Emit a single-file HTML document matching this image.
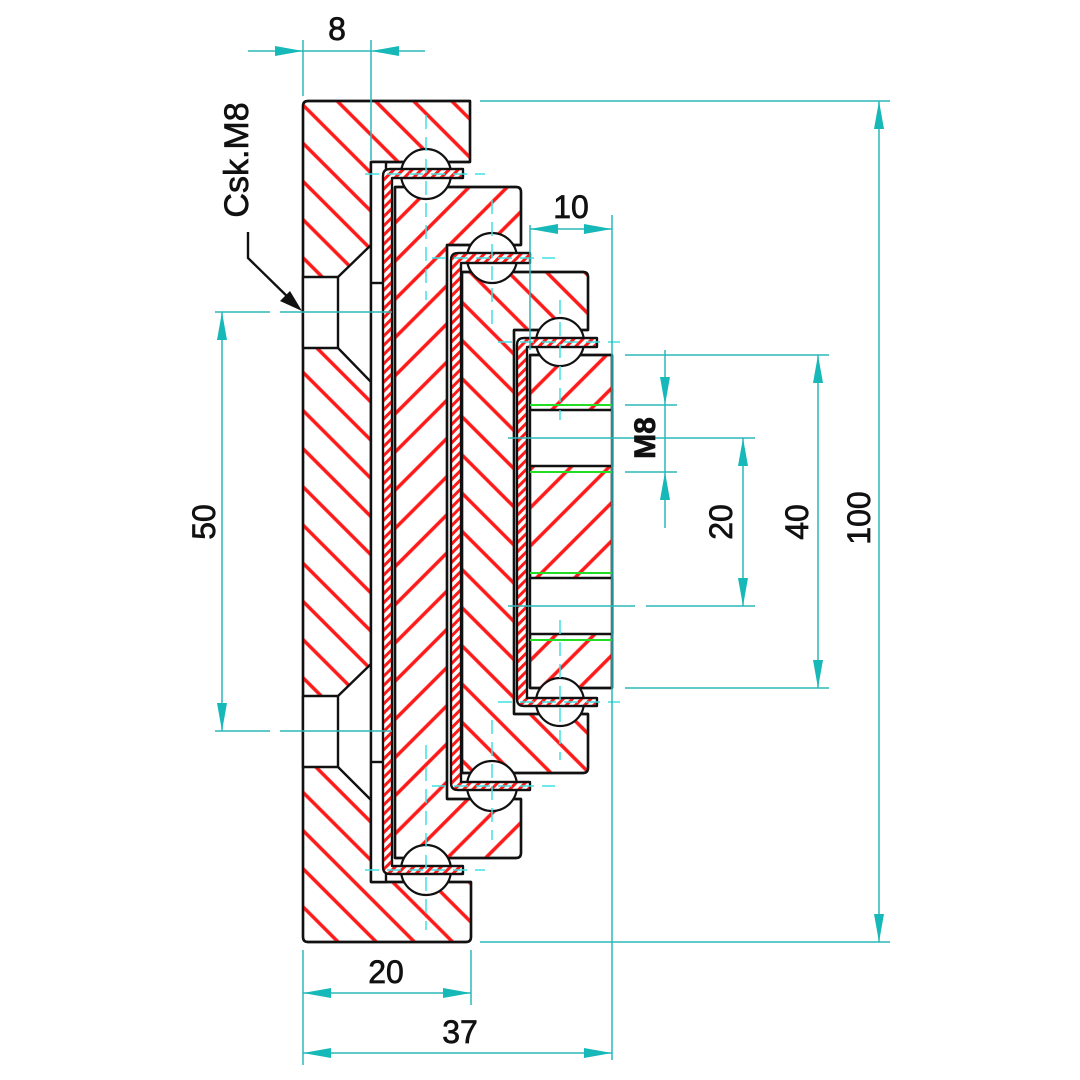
<!DOCTYPE html>
<html><head><meta charset="utf-8"><style>html,body{margin:0;padding:0;background:#fff}svg{display:block}</style></head>
<body>
<svg width="1080" height="1080" viewBox="0 0 1080 1080" xmlns="http://www.w3.org/2000/svg">
<defs>
<pattern id="hb" width="27" height="27" patternUnits="userSpaceOnUse" patternTransform="rotate(-45)">
<line x1="5" y1="0" x2="5" y2="27" stroke="#ff1a1a" stroke-width="3.5"/></pattern>
<pattern id="hf" width="27" height="27" patternUnits="userSpaceOnUse" patternTransform="rotate(45)">
<line x1="5" y1="0" x2="5" y2="27" stroke="#ff1a1a" stroke-width="3.5"/></pattern>
<pattern id="hs" width="6.5" height="6.5" patternUnits="userSpaceOnUse" patternTransform="rotate(45)">
<line x1="2" y1="0" x2="2" y2="6.5" stroke="#ff1a1a" stroke-width="3"/></pattern>
</defs>

<g stroke="#111" stroke-width="2.4" stroke-linejoin="round">
<path d="M303,106 Q303,101 308,101 L470,101 L470,162 L371,162 L371,882 L471,882 L471,937 Q471,942 466,942 L308,942 Q303,942 303,937 Z" fill="#fff"/>
<path d="M303,106 Q303,101 308,101 L470,101 L470,162 L371,162 L371,882 L471,882 L471,937 Q471,942 466,942 L308,942 Q303,942 303,937 Z" fill="url(#hb)"/>
<path d="M303,277 L338,277 L371,245 L371,382 L338,348 L303,348 Z" fill="#fff"/>
<line x1="338" y1="277" x2="338" y2="348"/>
<path d="M303,696 L338,696 L371,664 L371,800 L338,767 L303,767 Z" fill="#fff"/>
<line x1="338" y1="696" x2="338" y2="767"/>
<rect x="371" y="162" width="15" height="720" fill="#fff"/>
<line x1="371" y1="283" x2="386" y2="283"/>
<line x1="371" y1="762" x2="386" y2="762"/>

<path d="M395,187 L516,187 Q521,187 521,192 L521,245 L447,245 L447,799 L521,799 L521,853 Q521,858 516,858 L395,858 Z" fill="#fff"/>
<path d="M395,187 L516,187 Q521,187 521,192 L521,245 L447,245 L447,799 L521,799 L521,853 Q521,858 516,858 L395,858 Z" fill="url(#hf)"/>
<path d="M462,272 L583,272 Q588,272 588,277 L588,330 L514,330 L514,714 L588,714 L588,768 Q588,773 583,773 L462,773 Z" fill="#fff"/>
<path d="M462,272 L583,272 Q588,272 588,277 L588,330 L514,330 L514,714 L588,714 L588,768 Q588,773 583,773 L462,773 Z" fill="url(#hb)"/>
<rect x="530" y="355" width="82" height="333" fill="#fff"/>
<rect x="530" y="355" width="82" height="333" fill="url(#hf)"/>
<rect x="530" y="410" width="82" height="56" fill="#fff"/>
<rect x="530" y="578" width="82" height="56" fill="#fff"/>
</g>
<g stroke="#22dd22" stroke-width="2">
<line x1="530" y1="405" x2="612" y2="405"/><line x1="530" y1="472" x2="612" y2="472"/>
<line x1="530" y1="573" x2="612" y2="573"/><line x1="530" y1="640" x2="612" y2="640"/>
</g>

<g fill="#fff" stroke="#111" stroke-width="2.2">
<circle cx="426" cy="174" r="25"/><circle cx="426" cy="870" r="25"/>
<circle cx="492" cy="258" r="25"/><circle cx="492" cy="786" r="25"/>
<circle cx="560" cy="342" r="24"/><circle cx="560" cy="702" r="24"/>
</g>

<g stroke="#111" stroke-width="2.2" stroke-linejoin="round">
<path d="M390,169 L463,169 L463,178 L392,178 L392,866 L463,866 L463,874 L390,874 Q383,874 383,867 L383,176 Q383,169 390,169 Z" fill="#fff"/>
<path d="M390,169 L463,169 L463,178 L392,178 L392,866 L463,866 L463,874 L390,874 Q383,874 383,867 L383,176 Q383,169 390,169 Z" fill="url(#hs)"/>
<path d="M458,253 L530,253 L530,263 L461,263 L461,782 L530,782 L530,790 L458,790 Q451,790 451,783 L451,260 Q451,253 458,253 Z" fill="#fff"/>
<path d="M458,253 L530,253 L530,263 L461,263 L461,782 L530,782 L530,790 L458,790 Q451,790 451,783 L451,260 Q451,253 458,253 Z" fill="url(#hs)"/>
<path d="M524,338 L597,338 L597,347 L527,347 L527,698 L597,698 L597,706 L524,706 Q517,706 517,699 L517,345 Q517,338 524,338 Z" fill="#fff"/>
<path d="M524,338 L597,338 L597,347 L527,347 L527,698 L597,698 L597,706 L524,706 Q517,706 517,699 L517,345 Q517,338 524,338 Z" fill="url(#hs)"/>
</g>

<g stroke="#3ee0e0" stroke-width="1.5" stroke-dasharray="14,8" fill="none">
<line x1="426" y1="115" x2="426" y2="300"/><line x1="426" y1="745" x2="426" y2="930"/>
<line x1="492" y1="200" x2="492" y2="330"/><line x1="492" y1="720" x2="492" y2="840"/>
<line x1="560" y1="300" x2="560" y2="420"/><line x1="560" y1="620" x2="560" y2="760"/>
<line x1="365" y1="174" x2="485" y2="174"/><line x1="365" y1="870" x2="485" y2="870"/>
<line x1="432" y1="258" x2="555" y2="258"/><line x1="432" y1="786" x2="555" y2="786"/>
<line x1="498" y1="342" x2="620" y2="342"/><line x1="498" y1="702" x2="620" y2="702"/>
</g>

<g stroke="#2cb8b8" stroke-width="1.5" fill="none">
<line x1="303" y1="40" x2="303" y2="96"/><line x1="371" y1="40" x2="371" y2="160"/>
<line x1="248" y1="51" x2="425" y2="51"/>
<line x1="215" y1="312" x2="270" y2="312"/><line x1="280" y1="312" x2="392" y2="312"/>
<line x1="215" y1="731" x2="270" y2="731"/><line x1="280" y1="731" x2="392" y2="731"/>
<line x1="222" y1="312" x2="222" y2="731"/>
<line x1="530" y1="225" x2="530" y2="350"/><line x1="612" y1="215" x2="612" y2="1060"/>
<line x1="530" y1="229" x2="612" y2="229"/>
<line x1="625" y1="355" x2="829" y2="355"/><line x1="625" y1="405" x2="677" y2="405"/>
<line x1="508" y1="438" x2="755" y2="438"/><line x1="625" y1="472" x2="677" y2="472"/>
<line x1="508" y1="606" x2="635" y2="606"/><line x1="646" y1="606" x2="755" y2="606"/>
<line x1="625" y1="688" x2="829" y2="688"/>
<line x1="665" y1="350" x2="665" y2="528"/>
<line x1="743" y1="438" x2="743" y2="606"/>
<line x1="818" y1="355" x2="818" y2="688"/>
<line x1="480" y1="101" x2="890" y2="101"/><line x1="480" y1="942" x2="890" y2="942"/>
<line x1="879" y1="101" x2="879" y2="942"/>
<line x1="303" y1="950" x2="303" y2="1065"/><line x1="471" y1="950" x2="471" y2="1005"/>
<line x1="303" y1="993" x2="471" y2="993"/>
<line x1="303" y1="1053" x2="612" y2="1053"/>
</g>
<g fill="#16b8b8">
<polygon points="303,51 275,46 275,56"/><polygon points="371,51 399,46 399,56"/>
<polygon points="222,312 217,340 227,340"/><polygon points="222,731 217,703 227,703"/>
<polygon points="530,229 558,224 558,234"/><polygon points="612,229 584,224 584,234"/>
<polygon points="665,405 660,377 670,377"/><polygon points="665,472 660,500 670,500"/>
<polygon points="743,438 738,466 748,466"/><polygon points="743,606 738,578 748,578"/>
<polygon points="818,355 813,383 823,383"/><polygon points="818,688 813,660 823,660"/>
<polygon points="879,101 874,129 884,129"/><polygon points="879,942 874,914 884,914"/>
<polygon points="303,993 331,988 331,998"/><polygon points="471,993 443,988 443,998"/>
<polygon points="303,1053 331,1048 331,1058"/><polygon points="612,1053 584,1048 584,1058"/>
</g>

<polyline points="248,232 248,258 296,305" fill="none" stroke="#111" stroke-width="2.4"/>
<polygon points="302,311 280,301 290,291" fill="#111"/>

<g font-family="Liberation Sans, sans-serif" font-size="32" fill="#111" stroke="#111" stroke-width="0.7" text-anchor="middle">
<text x="337" y="40">8</text>
<text x="571" y="218">10</text>
<text x="386" y="983">20</text>
<text x="460" y="1043">37</text>
<text transform="translate(215,522) rotate(-90)">50</text>
<text transform="translate(732,522) rotate(-90)">20</text>
<text transform="translate(808,522) rotate(-90)">40</text>
<text transform="translate(870,518) rotate(-90)">100</text>
<text transform="translate(655,438) rotate(-90)" font-weight="bold" font-size="30">M8</text>
<text transform="translate(248,160) rotate(-90)" font-size="34">Csk.M8</text>
</g>
</svg>
</body></html>
